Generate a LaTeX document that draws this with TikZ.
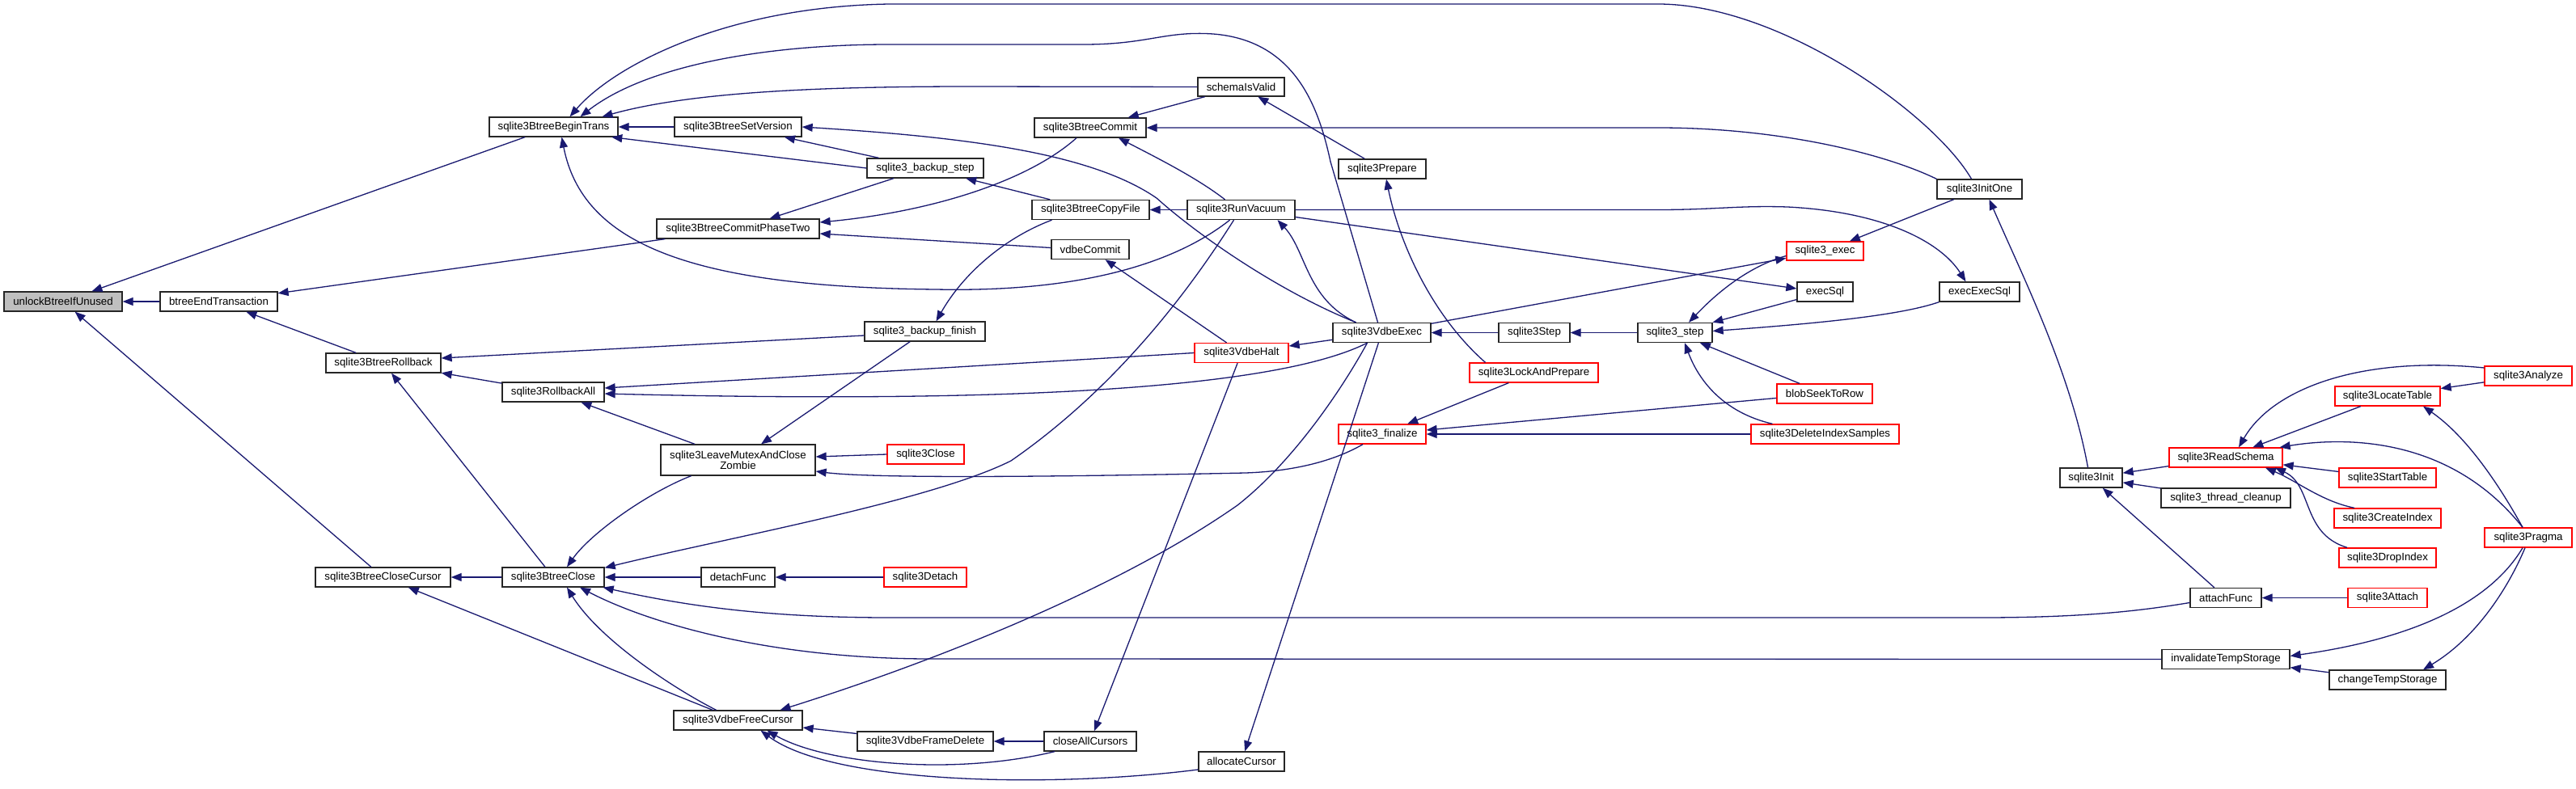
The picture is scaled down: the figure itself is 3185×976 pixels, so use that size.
\documentclass[tikz,border=0pt]{standalone}
\usepackage{fontspec}
\setmainfont{Liberation Sans}
\usetikzlibrary{arrows.meta}
\definecolor{navyc}{HTML}{191970}
\definecolor{grayfill}{HTML}{BFBFBF}
\begin{document}
\begin{tikzpicture}[x=1pt,y=-1pt,
  nd/.style={draw=black!85, line width=1.3pt, fill=white, rectangle, inner sep=0pt,
    minimum height=24pt, font=\fontsize{13.3}{13}\selectfont, text=black, align=center},
  rd/.style={nd, draw=red},
  cl/.style={draw=navyc, line width=1.3pt, >={Triangle[length=13pt,width=10pt]}, <-},
]
\fill[white] (0,0) rectangle (3185,976);
\useasboundingbox (0,0) rectangle (3185,976);

% nodes
\node[nd, fill=grayfill, minimum width=146pt] (unlock) at (78,373) {unlockBtreeIfUnused};
\node[nd, minimum width=145pt] (btreeEnd) at (270.5,373) {btreeEndTransaction};
\node[nd, minimum width=159pt] (beginTrans) at (684.5,157) {sqlite3BtreeBeginTrans};
\node[nd, minimum width=142pt] (rollback) at (474,449) {sqlite3BtreeRollback};
\node[nd, minimum width=126pt] (rollbackAll) at (684,485) {sqlite3RollbackAll};
\node[nd, minimum width=167pt] (closeCursor) at (473.5,714) {sqlite3BtreeCloseCursor};
\node[nd, minimum width=126pt] (btreeClose) at (684,714) {sqlite3BtreeClose};
\node[nd, minimum width=157pt] (setVersion) at (912.5,157) {sqlite3BtreeSetVersion};
\node[nd, minimum width=201pt] (phaseTwo) at (912.5,283) {sqlite3BtreeCommitPhaseTwo};
\node[nd, minimum width=144pt] (backupStep) at (1144,208) {sqlite3\_backup\_step};
\node[nd, minimum width=138pt] (btreeCommit) at (1348,158) {sqlite3BtreeCommit};
\node[nd, minimum width=107pt, minimum height=23pt] (schemaValid) at (1534.5,107.5) {schemaIsValid};
\node[nd, minimum width=145pt] (copyFile) at (1348.5,259.5) {sqlite3BtreeCopyFile};
\node[nd, minimum width=133pt] (runVacuum) at (1534.5,259.5) {sqlite3RunVacuum};
\node[nd, minimum width=96pt] (vdbeCommit) at (1348,308.5) {vdbeCommit};
\node[nd, minimum width=149pt] (backupFinish) at (1143.5,410) {sqlite3\_backup\_finish};
\node[rd, minimum width=116pt] (vdbeHalt) at (1535,436.5) {sqlite3VdbeHalt};
\node[nd, minimum width=191pt, minimum height=38pt] (leaveMutex) at (912.5,569) {sqlite3LeaveMutexAndClose\\Zombie};
\node[rd, minimum width=95pt] (s3close) at (1144.5,562) {sqlite3Close};
\node[nd, minimum width=91pt] (detachFunc) at (912.5,714) {detachFunc};
\node[rd, minimum width=102pt] (s3detach) at (1144,714) {sqlite3Detach};
\node[nd, minimum width=159pt] (freeCursor) at (912.5,891) {sqlite3VdbeFreeCursor};
\node[nd, minimum width=168pt] (frameDelete) at (1144,917) {sqlite3VdbeFrameDelete};
\node[nd, minimum width=114pt] (closeAll) at (1348,917) {closeAllCursors};
\node[nd, minimum width=106pt] (allocCursor) at (1535,942) {allocateCursor};
\node[nd, minimum width=108pt] (prepare) at (1709,209) {sqlite3Prepare};
\node[nd, minimum width=121pt] (vdbeExec) at (1708.5,411.5) {sqlite3VdbeExec};
\node[nd, minimum width=88pt] (s3Step) at (1897,411.5) {sqlite3Step};
\node[nd, minimum width=92pt] (s3step) at (2071,411.5) {sqlite3\_step};
\node[rd, minimum width=159pt] (lockPrepare) at (1896.5,461) {sqlite3LockAndPrepare};
\node[rd, minimum width=108pt] (finalize) at (1709,537) {sqlite3\_finalize};
\node[rd, minimum width=95pt, minimum height=23pt] (s3exec) at (2256.5,310.5) {sqlite3\_exec};
\node[nd, minimum width=69pt] (execSql) at (2256.5,361) {execSql};
\node[nd, minimum width=99pt] (execExecSql) at (2447.5,361) {execExecSql};
\node[nd, minimum width=105pt] (initOne) at (2447.5,234) {sqlite3InitOne};
\node[rd, minimum width=118pt] (blobSeek) at (2256,487) {blobSeekToRow};
\node[rd, minimum width=183pt] (delIdx) at (2256.5,537) {sqlite3DeleteIndexSamples};
\node[nd, minimum width=77pt] (s3init) at (2585.5,591) {sqlite3Init};
\node[rd, minimum width=140pt] (readSchema) at (2752,566) {sqlite3ReadSchema};
\node[nd, minimum width=160pt] (threadCleanup) at (2752,616) {sqlite3\_thread\_cleanup};
\node[nd, minimum width=88pt] (attachFunc) at (2752,739.5) {attachFunc};
\node[nd, minimum width=158pt] (invalTemp) at (2752,815.5) {invalidateTempStorage};
\node[nd, minimum width=144pt] (changeTemp) at (2952,841) {changeTempStorage};
\node[rd, minimum width=130pt] (locateTable) at (2952,490) {sqlite3LocateTable};
\node[rd, minimum width=120pt] (startTable) at (2952,591) {sqlite3StartTable};
\node[rd, minimum width=132pt] (createIndex) at (2952,641) {sqlite3CreateIndex};
\node[rd, minimum width=120pt] (dropIndex) at (2952,690) {sqlite3DropIndex};
\node[rd, minimum width=98pt] (s3attach) at (2952,739.5) {sqlite3Attach};
\node[rd, minimum width=108pt] (analyze) at (3126,465) {sqlite3Analyze};
\node[rd, minimum width=108pt] (pragma) at (3126,665) {sqlite3Pragma};

% edges (arrow head at the called function)
\draw[cl] (unlock) -- (beginTrans);
\draw[cl] (unlock) -- (btreeEnd);
\draw[cl] (unlock) -- (closeCursor);
\draw[cl] (btreeEnd) -- (phaseTwo);
\draw[cl] (btreeEnd) -- (rollback);
\draw[cl] ([xshift=20pt]beginTrans.north) .. controls (760,80) and (900,8) .. (1100,5) -- (2050,5) .. controls (2200,5) and (2390,140) .. ([xshift=-10pt]initOne.north);
\draw[cl] ([xshift=33pt]beginTrans.north) .. controls (800,80) and (950,55) .. (1100,55) -- (1340,55) .. controls (1420,55) and (1440,38) .. (1500,42) .. controls (1600,50) and (1630,130) .. (1645,200) -- ([xshift=-5pt]vdbeExec.north);
\draw[cl] ([xshift=60pt]beginTrans.north) .. controls (850,115) and (1000,107) .. (1200,107) -- (schemaValid.west);
\draw[cl] (beginTrans) -- (setVersion);
\draw[cl] (beginTrans.-10) -- (backupStep.west);
\draw[cl] ([xshift=10pt]beginTrans.south) .. controls (720,300) and (850,355) .. (1157,358) .. controls (1350,362) and (1460,320) .. ([xshift=-14pt]runVacuum.south);
\draw[cl] ([yshift=6pt]rollback.east) -- ([yshift=-5pt]backupFinish.west);
\draw[cl] (rollback) -- (rollbackAll);
\draw[cl] (rollback) -- (btreeClose);
\draw[cl] ([yshift=5pt]rollbackAll.east) -- (vdbeHalt.west);
\draw[cl] ([yshift=-2pt]rollbackAll.east) .. controls (1150,497) and (1560,490) .. ([xshift=-18pt]vdbeExec.south);
\draw[cl] (rollbackAll) -- (leaveMutex);
\draw[cl] ([xshift=17pt]btreeClose.north) .. controls (730,660) and (800,610) .. ([xshift=-58pt]leaveMutex.south);
\draw[cl] ([yshift=-1pt]btreeClose.north east) .. controls (900,665) and (1150,620) .. (1250,570) .. controls (1380,480) and (1470,360) .. ([xshift=-9pt]runVacuum.south);
\draw[cl] (btreeClose) -- (detachFunc);
\draw[cl] ([xshift=-2pt]btreeClose.south east) .. controls (850,750) and (950,764) .. (1100,764) -- (2450,764) .. controls (2580,764) and (2650,755) .. ([yshift=-6pt]attachFunc.west);
\draw[cl] ([xshift=33pt]btreeClose.south) .. controls (800,770) and (950,815) .. (1150,815) -- (invalTemp.west);
\draw[cl] ([xshift=17pt]btreeClose.south) .. controls (740,790) and (830,850) .. ([xshift=-27pt]freeCursor.north);
\draw[cl] (closeCursor) -- (btreeClose);
\draw[cl] (closeCursor) -- (freeCursor);
\draw[cl] (setVersion.east) .. controls (1200,170) and (1350,190) .. (1430,245) .. controls (1480,290) and (1580,360) .. ([xshift=-32pt]vdbeExec.north);
\draw[cl] (setVersion) -- (backupStep);
\draw[cl] (backupStep) -- (copyFile);
\draw[cl] (phaseTwo) -- (backupStep);
\draw[cl] ([yshift=8pt]phaseTwo.east) .. controls (1150,262) and (1270,225) .. ([xshift=-17pt]btreeCommit.south);
\draw[cl] ([yshift=-6pt]phaseTwo.east) -- ([yshift=2pt]vdbeCommit.west);
\draw[cl] (btreeCommit) -- (schemaValid);
\draw[cl] (btreeCommit.east) -- (2050,158) .. controls (2200,158) and (2330,190) .. (initOne.north west);
\draw[cl] ([xshift=35pt]btreeCommit.south) .. controls (1430,195) and (1480,220) .. ([xshift=-20pt]runVacuum.north);
\draw[cl] (schemaValid) -- (prepare);
\draw[cl] (copyFile) -- (runVacuum);
\draw[cl] ([xshift=14pt]backupFinish.north) .. controls (1190,340) and (1240,295) .. ([xshift=-48pt]copyFile.south);
\draw[cl] (leaveMutex) -- (backupFinish);
\draw[cl] (vdbeCommit) -- (vdbeHalt);
\draw[cl] (closeAll) -- (vdbeHalt);
\draw[cl] (vdbeHalt) -- (vdbeExec);
\draw[cl] ([xshift=45pt]runVacuum.south) .. controls (1615,310) and (1615,370) .. ([xshift=-32pt]vdbeExec.north);
\draw[cl] ([yshift=4pt]execSql.west) -- ([yshift=-9pt]runVacuum.east);
\draw[cl] ([xshift=-17pt]execExecSql.north) .. controls (2400,300) and (2330,262) .. (2210,256) .. controls (2150,254) and (2120,259.5) .. (2050,259.5) -- (runVacuum.east);
\draw[cl] ([xshift=12pt]initOne.south) .. controls (2500,340) and (2560,460) .. ([xshift=-4pt]s3init.north);
\draw[cl] (s3exec) -- (initOne);
\draw[cl] (s3exec) -- (vdbeExec);
\draw[cl] ([xshift=17pt]s3step.north) .. controls (2120,365) and (2160,330) .. ([yshift=-6pt]s3exec.west);
\draw[cl] (s3step) -- (execSql);
\draw[cl] ([yshift=2pt]s3step.east) .. controls (2250,400) and (2350,390) .. (execExecSql.south west);
\draw[cl] (s3step) -- (blobSeek);
\draw[cl] ([xshift=12pt]s3step.south) .. controls (2100,470) and (2130,510) .. ([xshift=-65pt]delIdx.north);
\draw[cl] (vdbeExec) -- (s3Step);
\draw[cl] (s3Step) -- (s3step);
\draw[cl] ([xshift=5pt]prepare.south) .. controls (1730,300) and (1770,390) .. ([xshift=-60pt]lockPrepare.north);
\draw[cl] (finalize) -- (lockPrepare);
\draw[cl] (finalize) -- (blobSeek);
\draw[cl] (finalize) -- (delIdx);
\draw[cl] ([yshift=-14pt]leaveMutex.east) .. controls (1080,592) and (1300,590) .. (1540,585) .. controls (1600,583) and (1650,570) .. ([xshift=-24pt]finalize.south);
\draw[cl] ([yshift=4pt]leaveMutex.east) -- (s3close.west);
\draw[cl] (detachFunc) -- (s3detach);
\draw[cl] ([xshift=52pt]freeCursor.north) .. controls (1150,820) and (1380,730) .. (1530,625) .. controls (1600,570) and (1660,480) .. ([xshift=-18pt]vdbeExec.south);
\draw[cl] (allocCursor) -- (vdbeExec);
\draw[cl] (freeCursor) -- (frameDelete);
\draw[cl] ([xshift=36pt]freeCursor.south) .. controls (1020,945) and (1180,960) .. ([xshift=-44pt]closeAll.south);
\draw[cl] ([xshift=28pt]freeCursor.south) .. controls (1030,970) and (1300,975) .. ([yshift=-10pt]allocCursor.west);
\draw[cl] (frameDelete) -- (closeAll);
\draw[cl] (s3init) -- (readSchema);
\draw[cl] (s3init) -- (threadCleanup);
\draw[cl] (s3init) -- (attachFunc);
\draw[cl] (attachFunc) -- (s3attach);
\draw[cl] ([xshift=16pt]readSchema.north) .. controls (2810,480) and (2920,440) .. ([yshift=10pt]analyze.west);
\draw[cl] (readSchema) -- (locateTable);
\draw[cl] ([xshift=-4pt]readSchema.north east) .. controls (2900,540) and (3030,540) .. ([xshift=-7pt]pragma.north);
\draw[cl] (readSchema) -- (startTable);
\draw[cl] ([xshift=49pt]readSchema.south) .. controls (2840,595) and (2870,620) .. ([xshift=-41pt]createIndex.north);
\draw[cl] ([xshift=61pt]readSchema.south) .. controls (2860,600) and (2845,660) .. ([xshift=-50pt]dropIndex.north);
\draw[cl] (locateTable) -- (analyze);
\draw[cl] ([xshift=44pt]locateTable.south) .. controls (3050,540) and (3090,600) .. ([xshift=-7pt]pragma.north);
\draw[cl] ([yshift=4pt]invalTemp.east) .. controls (2950,795) and (3070,760) .. ([xshift=-7pt]pragma.south);
\draw[cl] ([xshift=44pt]changeTemp.north) .. controls (3060,790) and (3100,730) .. ([xshift=-4pt]pragma.south);
\draw[cl] (invalTemp) -- (changeTemp);
\end{tikzpicture}
\end{document}
